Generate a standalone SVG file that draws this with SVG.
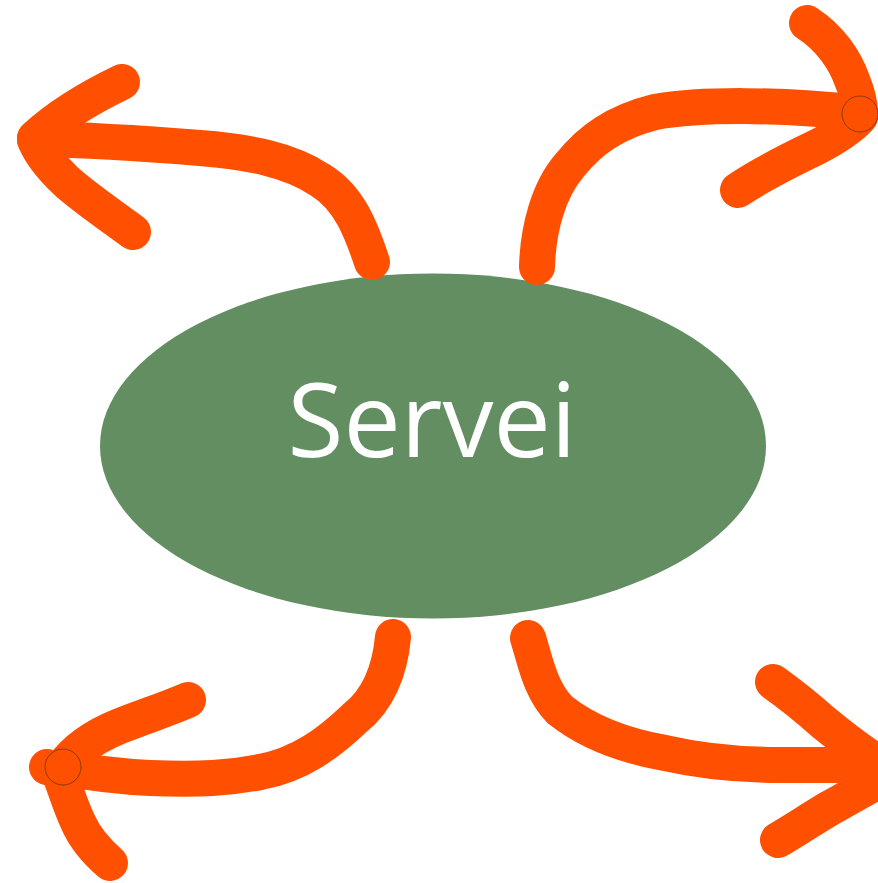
<svg xmlns="http://www.w3.org/2000/svg" width="878" height="883" viewBox="0 0 878 883">
<style>
.stroke{fill:none;stroke:#FE5000;stroke-width:36;stroke-linecap:round;stroke-linejoin:round}
.joint{fill:#FE5000;stroke:#8a3a10;stroke-width:1}
.label{font-family:"Open Sans","Liberation Sans",sans-serif;font-size:102px;fill:#ffffff}
</style>
<rect width="878" height="883" fill="#ffffff"/>
<g id="node-servei">
<ellipse cx="433" cy="446" rx="333" ry="172.5" fill="#638E61"/>
<text class="label" x="432" y="457" text-anchor="middle">Servei</text>
</g>
<g id="connectors">
<g id="arrow-top-left">
<path class="stroke" d="M372,262 C362,232 350,198 320,180 C290,160 250,152 200,148 C150,144 90,140 35,139"/>
<path class="stroke" d="M122,82 C95,95 60,115 35,138"/>
<path class="stroke" d="M133,232 C110,215 85,198 67,182 C50,166 40,152 35,140"/>
</g>
<g id="arrow-top-right">
<path class="stroke" d="M537,267 C538,230 548,190 570,165 C590,140 615,122 655,112 C700,104 780,104 860,113"/>
<path class="stroke" d="M807,23 C830,38 845,60 852,80 C857,92 860,104 860,113"/>
<path class="stroke" d="M738,190 C760,175 790,160 815,148 C835,138 850,128 860,117"/>
<circle class="joint" cx="860" cy="114" r="18"/>
</g>
<g id="arrow-bottom-left">
<path class="stroke" d="M393,637 C390,670 378,700 355,718 C330,742 300,765 260,772 C230,778 200,780 150,778 C110,776 85,772 63,768"/>
<path class="stroke" d="M188,700 C165,710 145,716 120,726 C95,736 75,750 63,767"/>
<path class="stroke" d="M110,863 C95,850 85,838 78,822 C70,805 66,790 60,775 C56,770 52,768 47,767"/>
<circle class="joint" cx="63" cy="767" r="18"/>
</g>
<g id="arrow-bottom-right">
<path class="stroke" d="M528,638 C535,660 540,690 560,710 C585,730 620,745 665,753 C700,761 740,765 780,765 C820,765 850,765 880,765"/>
<path class="stroke" d="M773,682 C790,694 805,706 823,722 C845,740 862,753 880,764"/>
<path class="stroke" d="M778,840 C795,830 810,820 830,808 C850,797 865,788 880,780"/>
</g>
</g>
</svg>
